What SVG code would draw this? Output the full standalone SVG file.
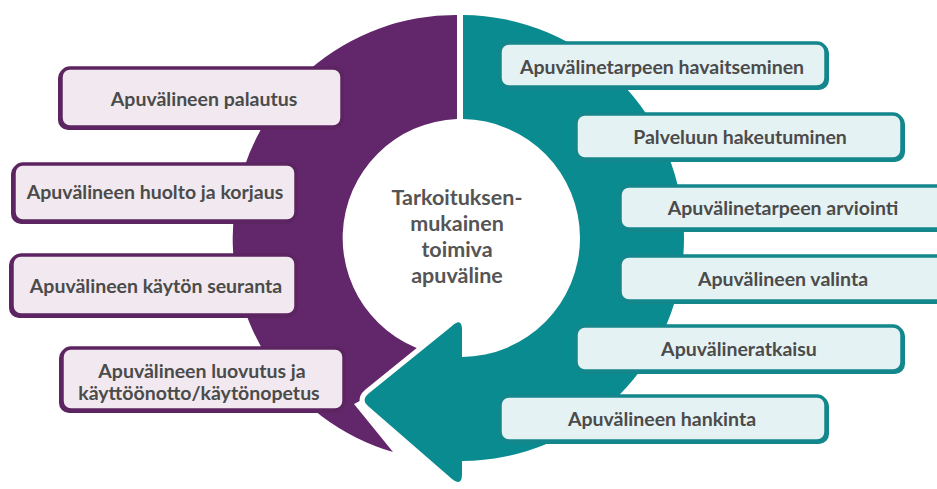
<svg xmlns="http://www.w3.org/2000/svg" width="937" height="489" viewBox="0 0 937 489">
<style>
.lsh{fill:#5c2461}
.lb{fill:#f1e9ef;stroke:#5c2461;stroke-width:3.5}
.rsh{fill:#13878c}
.rb{fill:#e5f2f3;stroke:#13878c;stroke-width:3.5}
.t{font-family:Lato,"Open Sans","Liberation Sans",sans-serif;font-weight:700;font-size:19.5px;fill:#4b4b4b;text-anchor:middle}
.c{font-family:Lato,"Open Sans","Liberation Sans",sans-serif;font-weight:700;font-size:21.5px;fill:#555555;text-anchor:middle}
</style>
<rect width="937" height="489" fill="#ffffff"/>
<g id="cycle">
<path id="purple-arc" d="M457,15 A223,223 0 0 0 393,452 L354,404 L447,356 A119,119 0 0 1 457,119 Z" fill="#62266a"/>
<path id="halo" d="M462,330 Q462,317 452,326 L368,394 Q361,400 368,406 L452,479 Q462,487 462,474 Z" fill="#ffffff" stroke="#ffffff" stroke-width="10" stroke-linejoin="round"/>
<path id="teal-arrow" d="M463,15 A223,223 0 0 1 684,238 A223,223 0 0 1 462,461 L462,474 Q462,487 452,479 L368,406 Q361,400 368,394 L452,326 Q462,317 462,330 L462,357 A119,119 0 0 0 580,238 A119,119 0 0 0 463,119 Z" fill="#0a8b8f"/>
</g>
<g id="center">
<text class="c" x="457" y="205">Tarkoituksen-</text>
<text class="c" x="457" y="231">mukainen</text>
<text class="c" x="457" y="257">toimiva</text>
<text class="c" x="457" y="283">apuväline</text>
</g>
<g id="n-palautus">
<rect class="lsh" x="58" y="68" width="284" height="62" rx="10"/>
<rect class="lb" x="61" y="68" width="281" height="59" rx="9"/>
<text class="t" x="204" y="106">Apuvälineen palautus</text>
</g>
<g id="n-huolto">
<rect class="lsh" x="11" y="164" width="285" height="60" rx="10"/>
<rect class="lb" x="14" y="164" width="282" height="57" rx="9"/>
<text class="t" x="155" y="199">Apuvälineen huolto ja korjaus</text>
</g>
<g id="n-seuranta">
<rect class="lsh" x="9" y="255" width="287" height="63" rx="10"/>
<rect class="lb" x="12" y="255" width="284" height="60" rx="9"/>
<text class="t" x="156" y="293">Apuvälineen käytön seuranta</text>
</g>
<g id="n-luovutus">
<rect class="lsh" x="59" y="348" width="285" height="65" rx="10"/>
<rect class="lb" x="62" y="348" width="282" height="62" rx="9"/>
<text class="t" x="202" y="378">Apuvälineen luovutus ja</text>
<text class="t" x="199" y="400">käyttöönotto/käytönopetus</text>
</g>
<g id="n-havaitseminen">
<rect class="rsh" x="500" y="43" width="329" height="47" rx="10"/>
<rect class="rb" x="500" y="43" width="326" height="44" rx="9"/>
<text class="t" x="662" y="74">Apuvälinetarpeen havaitseminen</text>
</g>
<g id="n-hakeutuminen">
<rect class="rsh" x="576" y="114" width="329" height="48" rx="10"/>
<rect class="rb" x="576" y="114" width="326" height="45" rx="9"/>
<text class="t" x="740" y="144">Palveluun hakeutuminen</text>
</g>
<g id="n-arviointi">
<rect class="rsh" x="620" y="186" width="330" height="46" rx="10"/>
<rect class="rb" x="620" y="186" width="327" height="43" rx="9"/>
<text class="t" x="783" y="215">Apuvälinetarpeen arviointi</text>
</g>
<g id="n-valinta">
<rect class="rsh" x="620" y="256" width="330" height="48" rx="10"/>
<rect class="rb" x="620" y="256" width="327" height="45" rx="9"/>
<text class="t" x="783" y="286">Apuvälineen valinta</text>
</g>
<g id="n-ratkaisu">
<rect class="rsh" x="576" y="326" width="329" height="48" rx="10"/>
<rect class="rb" x="576" y="326" width="326" height="45" rx="9"/>
<text class="t" x="739" y="356">Apuvälineratkaisu</text>
</g>
<g id="n-hankinta">
<rect class="rsh" x="500" y="396" width="329" height="48" rx="10"/>
<rect class="rb" x="500" y="396" width="326" height="45" rx="9"/>
<text class="t" x="662" y="426">Apuvälineen hankinta</text>
</g>
</svg>
